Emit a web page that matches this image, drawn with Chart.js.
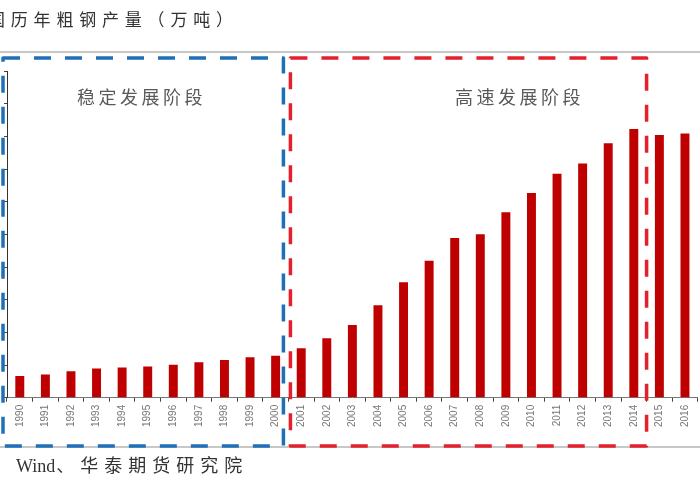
<!DOCTYPE html>
<html>
<head>
<meta charset="utf-8">
<script src="https://cdn.jsdelivr.net/npm/chart.js@4.4.1/dist/chart.umd.min.js"></script>
<style>
  html, body { margin: 0; padding: 0; background: #fff; }
  #wrap { width: 700px; height: 500px; }
</style>
</head>
<body>
<div id="wrap"><canvas id="steel_chart" width="700" height="500"></canvas></div>
<script>
// 中国历年粗钢产量（万吨）
const years = ['1990','1991','1992','1993','1994','1995','1996','1997','1998','1999','2000',
               '2001','2002','2003','2004','2005','2006','2007','2008','2009','2010',
               '2011','2012','2013','2014','2015','2016']
const output = [6635, 7100, 8094, 8956, 9261, 9536, 10124, 10894, 11559, 12426, 12850,
                15163, 18237, 22234, 28291, 35324, 41915, 48929, 50049, 56803, 62665,
                68528, 71654, 77904, 82270, 80383, 80837]
const titleText = '国历年粗钢产量（万吨）'
const sourceLatin = 'Wind'
const sourceRest = '、华泰期货研究院'
const phaseNames = ['稳定发展阶段', '高速发展阶段']
const phaseEnds = ['2000', '2014']   // 每个阶段的最后一年

const serif = '"Liberation Serif", "Noto Sans CJK SC", serif'
const cjk = '"Noto Sans CJK SC", sans-serif'

// 画标题、来源、虚线框
const decor = {
    id: 'decor',
    beforeDraw(chart) {
        const ctx = chart.ctx
        ctx.save()
        ctx.strokeStyle = '#c8c8c8'
        ctx.lineWidth = 2
        ctx.beginPath()
        ctx.moveTo(0, 52); ctx.lineTo(700, 52)
        ctx.moveTo(0, 447); ctx.lineTo(700, 447)
        ctx.stroke()
        ctx.restore()
    },
    afterDraw(chart) {
        const ctx = chart.ctx
        const x = chart.scales.x
        const half = (x.getPixelForValue(1) - x.getPixelForValue(0)) / 2
        const i1 = years.indexOf(phaseEnds[0])
        const i2 = years.indexOf(phaseEnds[1])
        const split1 = x.getPixelForValue(i1) + half
        const split2 = x.getPixelForValue(i2) + half
        const top = 58, bottom = 446

        ctx.save()
        ctx.lineWidth = 3.5
        ctx.setLineDash([17, 14])
        ctx.lineJoin = 'round'
        ctx.lineCap = 'butt'
        ctx.strokeStyle = '#1f70b8'
        ctx.strokeRect(x.left - 4, top, split1 - 5 - (x.left - 4), bottom - top)
        ctx.strokeStyle = '#e3202c'
        ctx.strokeRect(split1 + 2, top, split2 - split1 - 2, bottom - top)
        ctx.setLineDash([])

        // 阶段名称
        ctx.fillStyle = '#5a5a5a'
        ctx.font = '18px ' + cjk
        ctx.letterSpacing = '3.5px'
        ctx.textAlign = 'left'
        ctx.textBaseline = 'middle'
        ctx.fillText(phaseNames[0], 77, 97)
        ctx.fillText(phaseNames[1], 455, 97)

        // 标题
        ctx.fillStyle = '#333'
        ctx.font = '17px ' + serif
        ctx.letterSpacing = '5.8px'
        ctx.fillText(titleText, -12, 22)

        // 来源
        ctx.font = '18px ' + serif
        ctx.letterSpacing = '0px'
        ctx.fillText(sourceLatin, 16, 467)
        const w = ctx.measureText(sourceLatin).width
        ctx.font = '18px ' + serif
        ctx.letterSpacing = '6px'
        ctx.fillText(sourceRest, 16 + w + 1, 467)
        ctx.restore()
    }
}

const data = {
    labels: years,
    datasets: [{
        label: '粗钢产量',
        data: output,
        backgroundColor: '#bf0000',
        barPercentage: 0.7,
        categoryPercentage: 0.5
    }]
}

const options = {
    responsive: false,
    animation: false,
    layout: { padding: { top: 71, left: 4, right: 2, bottom: 70 } },
    plugins: { legend: { display: false }, tooltip: { enabled: false } },
    scales: {
        x: {
            border: { display: true, color: '#777', width: 1 },
            grid: { display: true, drawOnChartArea: false, tickLength: 4, color: '#444', offset: true },
            ticks: {
                minRotation: 90, maxRotation: 90, autoSkip: false, padding: 3,
                color: '#777', font: { size: 10, family: '"Liberation Sans", Arial, sans-serif' }
            }
        },
        y: {
            min: 0,
            max: 100000,
            border: { display: true, color: '#333', width: 1 },
            grid: { display: true, drawOnChartArea: false, tickLength: 3, color: '#444' },
            ticks: { display: false, stepSize: 10000 }
        }
    }
}

new Chart('steel_chart', { type: 'bar', data, options, plugins: [decor] })
</script>
</body>
</html>
